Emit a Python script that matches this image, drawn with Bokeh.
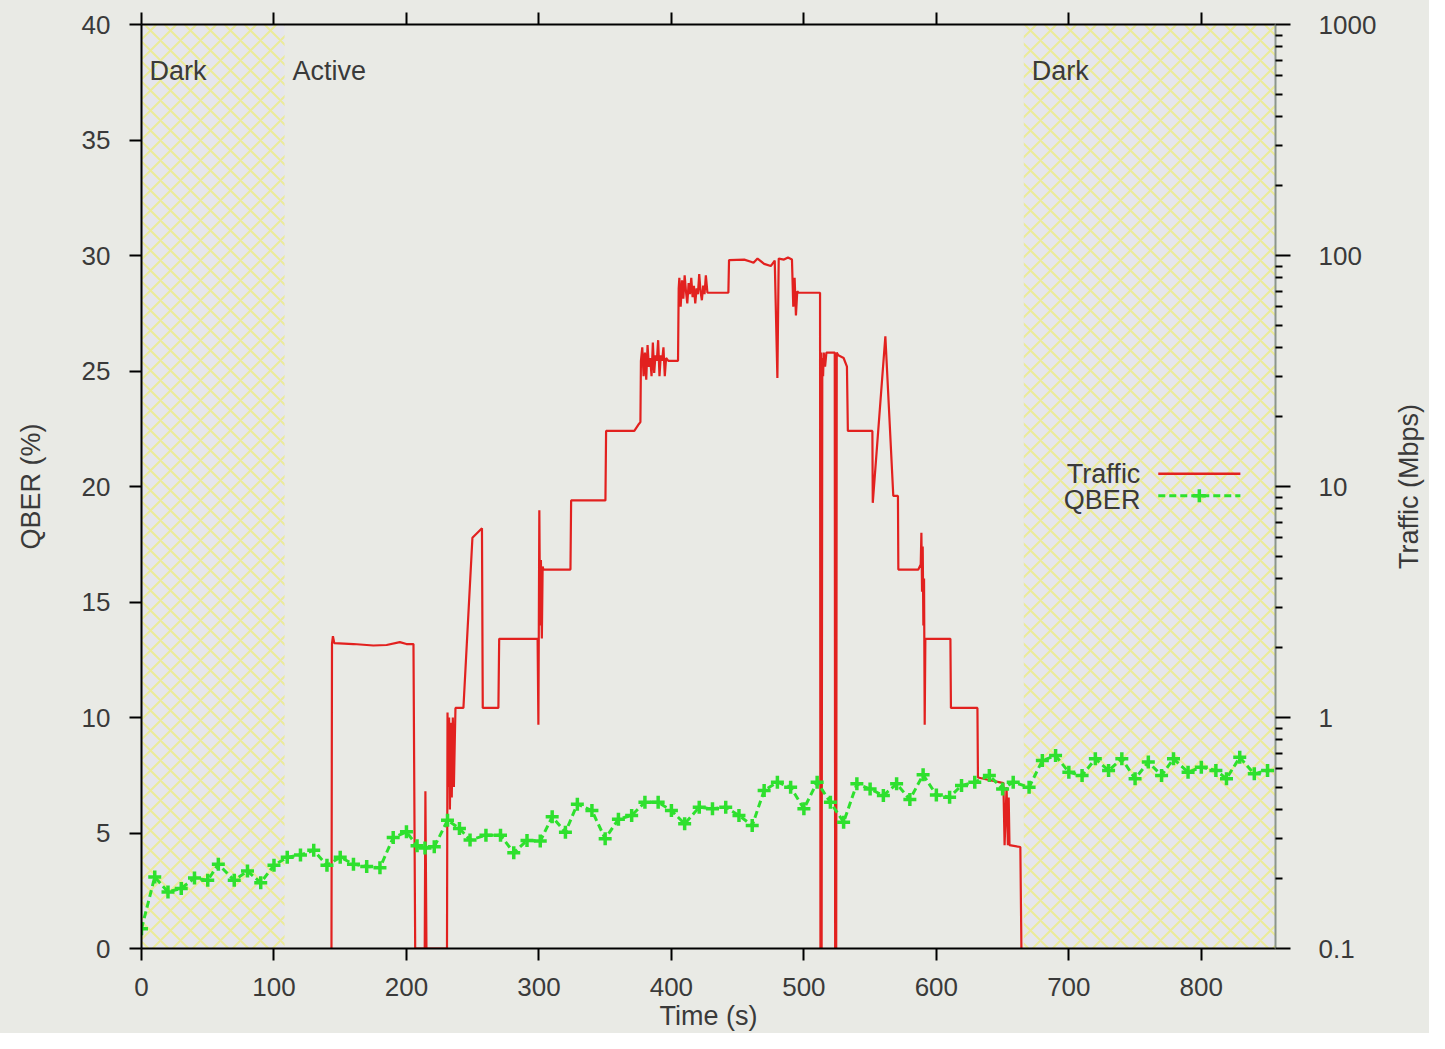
from bokeh.plotting import figure
from bokeh.layouts import row
from bokeh.models import Range1d, LinearAxis, LogAxis, FixedTicker, LogScale
from bokeh.embed import file_html
from bokeh.resources import INLINE
from bokeh.core.properties import value

# ---------------- data ----------------
time_ticks = [0, 100, 200, 300, 400, 500, 600, 700, 800]
qber_ticks = [0, 5, 10, 15, 20, 25, 30, 35, 40]
traffic_ticks = [0.1, 1, 10, 100, 1000]
traffic_tick_labels = ["0.1", "1", "10", "100", "1000"]

region_names = ["Dark", "Active", "Dark"]
region_start = [0, 108, 666]
dark_start = [0, 666]
dark_end = [108, 856]

# Traffic (Mbps) vs time (s)
traffic_t = [
    143.4, 143.8, 144.5, 145.5, 160, 175, 185, 195, 200, 205.3, 206.6,
    213.8, 214.3, 215.1, 218, 230.6, 231.0, 231.5, 232.2, 232.8, 233.5, 234.2,
    235.0, 235.8, 236.5, 237.0, 243.0, 249.8, 257.0, 257.6, 269.4, 270.0,
    299.0, 299.6, 300.3, 300.9, 301.5, 302.2, 302.8, 303.4, 323.8, 324.3,
    350.2, 350.7, 372.0, 375.0, 376.6, 377.0, 378, 379, 380, 381, 382, 383,
    384, 385, 386, 387, 388, 389, 390, 391, 392, 393, 394, 395, 396, 397.7,
    405.0, 405.5, 406, 407, 408, 409, 410, 411, 412, 413, 414, 415, 416, 417,
    418, 419, 420, 421, 422, 423, 424, 425, 426, 427.2, 443.0, 443.5, 455,
    460, 462, 465, 470, 475, 478, 480, 481, 485, 488, 491, 492, 493, 494, 495,
    496, 512.2, 512.5, 513.0, 513.4, 513.9, 514.5, 515, 516, 517, 523.3,
    523.6, 524.0, 524.4, 524.8, 526, 530, 532.5, 533.2, 551.7, 552.0, 561.5,
    567.5, 571.0, 571.3, 586.4, 588.2, 588.7, 589.2, 589.7, 590.2, 590.7,
    591.2, 591.7, 610.6, 611.0, 631.0, 631.4, 650.6, 651.5, 653.0, 654.0,
    654.6, 655.2, 663.4, 664.2,
]
traffic_mbps = [
    0.1, 2.09, 2.25, 2.1, 2.08, 2.05, 2.06, 2.12, 2.08, 2.08, 0.1,
    0.1, 0.48, 0.1, 0.1, 0.1, 1.05, 0.5, 1.0, 0.4, 0.95, 0.45,
    1.0, 0.5, 0.8, 1.1, 1.1, 6.0, 6.6, 1.1, 1.1, 2.19,
    2.19, 0.93, 7.9, 2.5, 4.8, 2.2, 4.5, 4.37, 4.37, 8.7,
    8.7, 17.4, 17.4, 18.5, 19.0, 35.0, 40, 30, 38, 29, 41, 33,
    36, 30, 42, 31, 37, 35, 43, 30, 37, 35, 40, 30, 36, 35,
    35.0, 72, 80, 60, 78, 65, 82, 70, 62, 76, 68, 80, 66, 74,
    62, 72, 68, 83, 70, 64, 74, 68, 82, 69, 69, 95.5, 96,
    94, 93, 97, 92, 90, 95, 29.5, 97, 96, 98, 96, 60, 80, 55, 70,
    69, 69, 0.1, 38, 0.1, 36, 30, 38, 33, 38, 38,
    0.1, 38, 0.1, 38, 37, 36, 33, 17.4, 17.4, 8.5, 44.7,
    9.1, 9.1, 4.37, 4.37, 4.6, 6.3, 3.5, 5.5, 2.5, 4.0,
    0.93, 2.19, 2.19, 1.1, 1.1, 0.55, 0.52, 0.28, 0.5, 0.28,
    0.45, 0.28, 0.275, 0.1,
]

# QBER (%) vs time (s)
qber_t = [
    0, 10, 20, 30, 40, 50, 58, 70, 80, 90, 100, 110, 120, 130, 140, 150,
    160, 170, 180, 190, 200, 208, 214, 221, 231, 240, 248, 260, 271, 281,
    291, 301, 310, 320, 329, 340, 350, 360, 370, 380, 390, 400, 410, 421,
    431, 441, 451, 461, 470, 480, 490, 500, 510, 520, 530, 540, 550, 560,
    570, 580, 590, 600, 610, 619, 629, 640, 650, 658, 670, 680, 690, 700,
    710, 720, 730, 740, 750, 760, 770, 779, 790, 800, 811, 819, 829, 840,
    850,
]
qber_pct = [
    0.85, 3.1, 2.45, 2.6, 3.05, 2.95, 3.65, 2.95, 3.35, 2.85, 3.6, 3.95,
    4.05, 4.25, 3.6, 3.95, 3.65, 3.55, 3.5, 4.8, 5.05, 4.45, 4.35, 4.4,
    5.55, 5.2, 4.7, 4.9, 4.9, 4.15, 4.68, 4.65, 5.7, 5.03, 6.25, 5.97,
    4.75, 5.6, 5.76, 6.33, 6.33, 5.97, 5.4, 6.12, 6.05, 6.12, 5.76, 5.32,
    6.84, 7.2, 6.98, 6.05, 7.2, 6.33, 5.47, 7.13, 6.91, 6.62, 7.13, 6.45,
    7.52, 6.65, 6.55, 7.06, 7.2, 7.49, 6.91, 7.2, 6.98, 8.14, 8.35, 7.63,
    7.49, 8.21, 7.71, 8.21, 7.35, 8.07, 7.49, 8.21, 7.63, 7.85, 7.71, 7.35,
    8.28, 7.56, 7.71,
]

legend_names = ["Traffic", "QBER"]
x_title = "Time (s)"
y_title = "QBER (%)"
y2_title = "Traffic (Mbps)"

# ---------------- style ----------------
BG = "#e9eae5"
FONT = "Liberation Sans"
TXT = "#3a3a3a"
RED = "#e2211f"
GREEN = "#2ee02e"
HATCH = "#ebeb9a"
MAIN_W = 1390
SIDE_W = 39
H = 1033

fig = figure(width=MAIN_W, height=H, output_backend="svg", toolbar_location=None,
             x_range=Range1d(0, 856), y_range=Range1d(0, 40),
             x_axis_location=None, y_axis_location=None,
             min_border_left=141, min_border_right=MAIN_W - 1275,
             min_border_top=24, min_border_bottom=85,
             background_fill_color=BG, border_fill_color=BG)
fig.outline_line_color = None
fig.xgrid.visible = False
fig.ygrid.visible = False

fig.extra_y_ranges = {"traffic": Range1d(0.1, 1000)}
fig.extra_y_scales = {"traffic": LogScale()}


def style_axis(ax, line_color="black"):
    ax.axis_line_color = line_color
    ax.axis_line_width = 2
    ax.major_tick_line_color = "black"
    ax.major_tick_line_width = 2
    ax.minor_tick_line_color = "black"
    ax.minor_tick_line_width = 2
    ax.major_tick_in = 0
    ax.major_tick_out = 12
    ax.minor_tick_in = 0
    ax.minor_tick_out = 0
    ax.major_label_text_font = FONT
    ax.major_label_text_font_size = "26px"
    ax.major_label_text_color = TXT
    ax.axis_label_text_font = FONT
    ax.axis_label_text_font_size = "27px"
    ax.axis_label_text_font_style = "normal"
    ax.axis_label_text_color = TXT


left = LinearAxis(ticker=FixedTicker(ticks=qber_ticks), axis_label=y_title)
style_axis(left)
left.major_label_standoff = 19
left.axis_label_standoff = 33
fig.add_layout(left, "left")

bottom = LinearAxis(ticker=FixedTicker(ticks=time_ticks), axis_label=x_title)
style_axis(bottom)
bottom.major_label_standoff = 17
bottom.axis_label_standoff = 2
fig.add_layout(bottom, "below")

top = LinearAxis(ticker=FixedTicker(ticks=time_ticks))
style_axis(top)
top.major_label_text_font_size = "0px"
top.major_label_standoff = 0
fig.add_layout(top, "above")

minor = []
for dec in [0.1, 1, 10, 100]:
    minor += [dec * k for k in range(2, 10)]
right = LogAxis(y_range_name="traffic",
                ticker=FixedTicker(ticks=traffic_ticks, minor_ticks=minor),
                major_label_overrides={t: s for t, s in zip(traffic_ticks, traffic_tick_labels)})
style_axis(right, line_color="#8a948c")
right.major_tick_out = 15
right.minor_tick_out = 7
right.major_label_standoff = 28
fig.add_layout(right, "right")

# shaded dark periods
fig.quad(left=dark_start, right=dark_end, bottom=0, top=40,
         fill_color="#e6e6ec", line_color=None,
         hatch_pattern="x", hatch_color=HATCH, hatch_scale=20, hatch_weight=2)

# region labels
fig.text(x=[s + 6 for s in region_start], y=[38] * len(region_names), text=region_names,
         text_font=value(FONT), text_font_size="27px", text_color=TXT,
         text_baseline="middle", text_align="left")

# traffic line
fig.line(traffic_t, traffic_mbps, y_range_name="traffic", line_color=RED, line_width=2.2)

# QBER line
fig.line(qber_t, qber_pct, line_color=GREEN, line_width=3, line_dash="7 4")
fig.scatter(qber_t, qber_pct, marker="cross", size=13, line_color=GREEN, line_width=3.5)

# key (labels to the left of the samples, as in the original)
key_x_text = 754
key_x0, key_x1 = 767.5, 829.5
key_y = [20.55, 19.4]
fig.text(x=[key_x_text] * 2, y=key_y, text=legend_names, text_font=value(FONT),
         text_font_size="27px", text_color=TXT, text_baseline="middle", text_align="right")
fig.segment(x0=[key_x0], y0=[key_y[0]], x1=[key_x1], y1=[key_y[0]], line_color=RED, line_width=2.5)
fig.segment(x0=[key_x0], y0=[key_y[1] + 0.2], x1=[key_x1], y1=[key_y[1] + 0.2],
            line_color=GREEN, line_width=3, line_dash="7 4")
fig.scatter([(key_x0 + key_x1) / 2], [key_y[1] + 0.2], marker="cross", size=13,
            line_color=GREEN, line_width=3.5)

# narrow side strip that carries the right-hand title (reads bottom-to-top)
side = figure(width=SIDE_W, height=H, output_backend="svg", toolbar_location=None,
              x_range=Range1d(0, 1), y_range=Range1d(0, 1),
              x_axis_location=None, y_axis_location=None,
              min_border_left=0, min_border_right=0,
              min_border_top=24, min_border_bottom=85,
              background_fill_color=BG, border_fill_color=BG)
side.outline_line_color = None
side.xgrid.visible = False
side.ygrid.visible = False
side_axis = LinearAxis(axis_label=y2_title, ticker=FixedTicker(ticks=[]))
style_axis(side_axis, line_color=None)
side_axis.major_tick_out = 0
side_axis.major_label_text_font_size = "0px"
side_axis.major_label_standoff = 0
side_axis.axis_label_standoff = -6
side.add_layout(side_axis, "left")

p = row(fig, side, spacing=0, styles={"background-color": BG})

open("out.html", "w").write(file_html(p, INLINE))
